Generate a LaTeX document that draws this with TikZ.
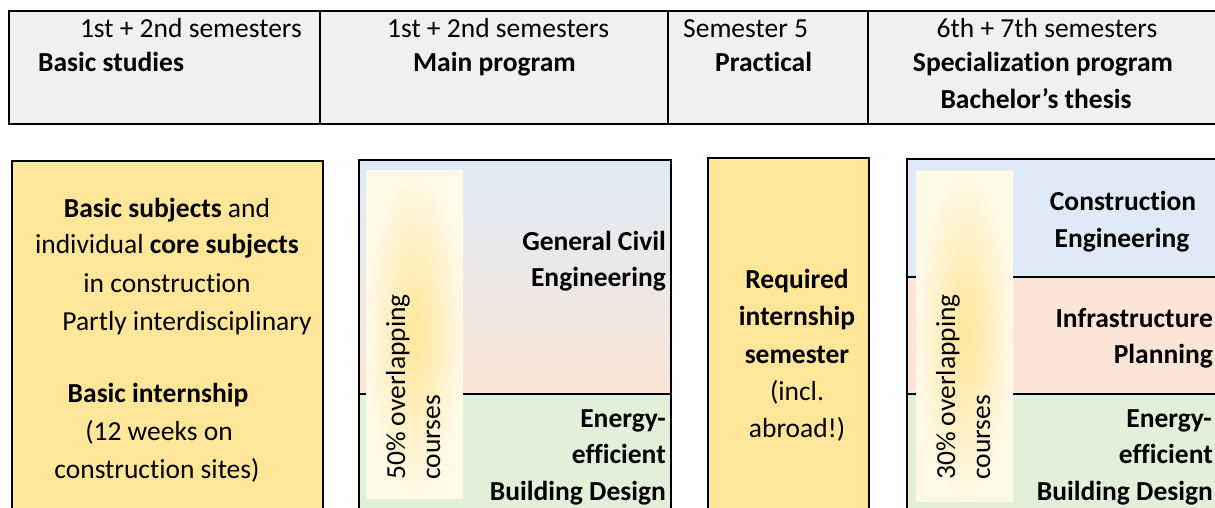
\documentclass[tikz,border=0pt]{standalone}
\usepackage{fontspec}
\setmainfont{Carlito}[Ligatures=NoCommon]
\definecolor{hdrgray}{HTML}{F0F0F0}
\definecolor{cyel}{HTML}{FFE699}
\definecolor{ccream}{HTML}{FFF9E8}
\definecolor{cblue}{HTML}{DEEBF7}
\definecolor{cpink}{HTML}{FBE5D6}
\definecolor{cgreen}{HTML}{E2F0D9}
\begin{document}
\begin{tikzpicture}[x=1pt,y=-1pt,
  txt/.style={inner sep=0pt,font=\fontsize{27.5}{33}\selectfont},
  rtxt/.style={txt,rotate=90,anchor=base west},
  boxline/.style={draw=black,line width=2.2pt},
  divline/.style={draw=black,line width=2pt},
  hdrline/.style={draw=black,line width=2.7pt},
  overlap/.style={inner color=cyel,outer color=ccream}]
\useasboundingbox (0,0) rectangle (1215,508);
\clip (0,0) rectangle (1215,508);

% ---- header band ----
\fill[hdrgray] (9,11) rectangle (1230,124);
\draw[hdrline] (1230,11) -- (9,11) -- (9,124) -- (1230,124);
\draw[hdrline,line width=2.5pt] (320,11) -- (320,124);
\draw[hdrline,line width=2.5pt] (668,11) -- (668,124);
\draw[hdrline,line width=2.5pt] (868,11) -- (868,124);

\node[txt,anchor=base east] (h1a) at (302,38) {1st + 2nd semesters};
\node[txt,anchor=base west] (h1b) at (38,72) {\textbf{Basic studies}};
\node[txt,anchor=base west] (h2a) at (387,38) {1st + 2nd semesters};
\node[txt,anchor=base west] (h2b) at (413,72) {\textbf{Main program}};
\node[txt,anchor=base west] (h3a) at (683,38) {Semester 5};
\node[txt,anchor=base west] (h3b) at (715,72) {\textbf{Practical}};
\node[txt,anchor=base] (h4a) at (1047,38) {6th + 7th semesters};
\node[txt,anchor=base] (h4b) at (1043,72) {\textbf{Specialization program}};
\node[txt,anchor=base] (h4c) at (1036,109) {\textbf{Bachelor’s thesis}};

% ---- basic studies ----
\fill[cyel] (12,161) rectangle (323,520);
\draw[boxline] (12,520) -- (12,161) -- (323,161) -- (323,520);
\node[txt,anchor=base] (b1) at (167,217) {\textbf{Basic subjects} and};
\node[txt,anchor=base] (b2) at (167,253) {individual \textbf{core subjects}};
\node[txt,anchor=base] (b3) at (167,292) {in construction};
\node[txt,anchor=base] (b4) at (187,330) {Partly interdisciplinary};
\node[txt,anchor=base] (b5) at (158,402) {\textbf{Basic internship}};
\node[txt,anchor=base] (b6) at (159,440) {(12 weeks on};
\node[txt,anchor=base] (b7) at (157,478) {construction sites)};

% ---- main program ----
\shade[top color=cblue,bottom color=cpink] (359,160) rectangle (671,394);
\fill[cgreen] (359,394) rectangle (671,520);
\draw[divline] (359,394) -- (671,394);
\draw[boxline] (359,520) -- (359,160) -- (671,160) -- (671,520);
\shade[overlap] (366,170) rectangle (463,498);
\node[rtxt] (m1) at (405,480) {50\% overlapping};
\node[rtxt] (m2) at (440,480) {courses};
\node[txt,anchor=base east] (g1) at (666,250) {\textbf{General Civil}};
\node[txt,anchor=base east] (g2) at (666,286) {\textbf{Engineering}};
\node[txt,anchor=base east] (e1) at (666,427) {\textbf{Energy-}};
\node[txt,anchor=base east] (e2) at (666,463) {\textbf{efficient}};
\node[txt,anchor=base east] (e3) at (666,500) {\textbf{Building Design}};

% ---- practical semester ----
\fill[cyel] (708,158) rectangle (869,520);
\draw[boxline] (708,520) -- (708,158) -- (869,158) -- (869,520);
\node[txt,anchor=base] (p1) at (797,288) {\textbf{Required}};
\node[txt,anchor=base] (p2) at (797,325) {\textbf{internship}};
\node[txt,anchor=base] (p3) at (797,363) {\textbf{semester}};
\node[txt,anchor=base] (p4) at (797,400) {(incl.};
\node[txt,anchor=base] (p5) at (797,437) {abroad!)};

% ---- specialization program ----
\fill[cblue] (907,159) rectangle (1230,277);
\fill[cpink] (907,277) rectangle (1230,394);
\fill[cgreen] (907,394) rectangle (1230,520);
\draw[divline] (907,277) -- (1230,277);
\draw[divline] (907,394) -- (1230,394);
\draw[boxline] (907,520) -- (907,159) -- (1230,159);
\shade[overlap] (916,171) rectangle (1013,501);
\node[rtxt] (s1) at (955,480) {30\% overlapping};
\node[rtxt] (s2) at (990,480) {courses};
\node[txt,anchor=base] (c1) at (1123,210) {\textbf{Construction}};
\node[txt,anchor=base] (c2) at (1122,247) {\textbf{Engineering}};
\node[txt,anchor=base east] (i1) at (1213,327) {\textbf{Infrastructure}};
\node[txt,anchor=base east] (i2) at (1213,363) {\textbf{Planning}};
\node[txt,anchor=base east] (f1) at (1212,427) {\textbf{Energy-}};
\node[txt,anchor=base east] (f2) at (1213,463) {\textbf{efficient}};
\node[txt,anchor=base east] (f3) at (1213,500) {\textbf{Building Design}};
\end{tikzpicture}
\end{document}
